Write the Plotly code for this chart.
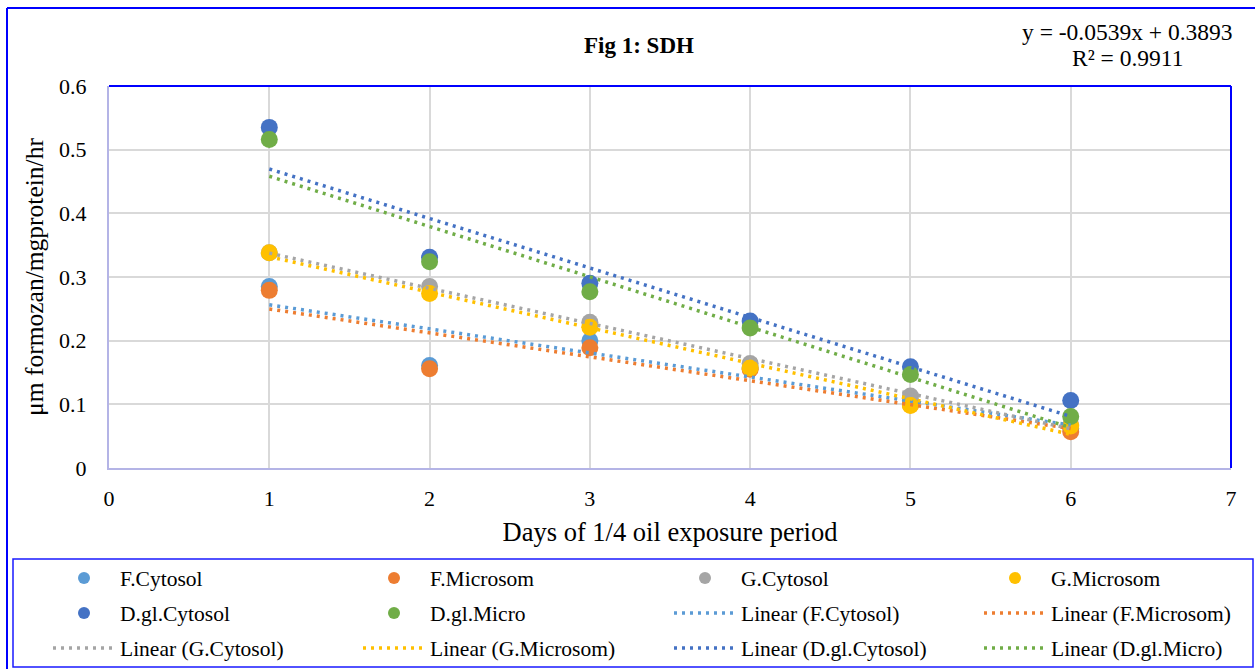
import numpy as np
import plotly.graph_objects as go

days = [1, 2, 3, 4, 5, 6]
f_cytosol = [0.285, 0.161, 0.200, 0.157, 0.106, 0.062]
f_microsom = [0.279, 0.156, 0.189, 0.155, 0.099, 0.057]
g_cytosol = [0.338, 0.285, 0.229, 0.164, 0.113, 0.068]
g_microsom = [0.338, 0.274, 0.221, 0.157, 0.098, 0.066]
dgl_cytosol = [0.535, 0.331, 0.290, 0.231, 0.159, 0.106]
dgl_micro = [0.516, 0.324, 0.277, 0.220, 0.147, 0.081]

series_names = ["F.Cytosol", "F.Microsom", "G.Cytosol", "G.Microsom", "D.gl.Cytosol", "D.gl.Micro"]
series_values = [f_cytosol, f_microsom, g_cytosol, g_microsom, dgl_cytosol, dgl_micro]
colors = ["#5B9BD5", "#ED7D31", "#A5A5A5", "#FFC000", "#4472C4", "#70AD47"]

title_text = "Fig 1: SDH"
equation_lines = ["y = -0.0539x + 0.3893", "R² = 0.9911"]
x_title = "Days of 1/4 oil exposure period"
y_title = "μm formozan/mgprotein/hr"

FONT = "Liberation Serif, Times New Roman, serif"

# pixel layout helpers
W, H = 1255, 669
L, R, T, B = 109, 1231, 86, 468
pw, ph = R - L, B - T
def px(x):
    return (x - L) / pw
def py(y):
    return (B - y) / ph

# legend grid (pixel positions of entry text starts and row centres)
LEG_ITEMW = 62
leg_col_text_x = [120, 430, 741, 1051]
leg_row_y = [578, 613, 648]

fig = go.Figure()

legend_layouts = {}
def legend_for(k, is_marker):
    lid = "legend" if k == 0 else f"legend{k + 1}"
    col, row = k % 4, k // 4
    legend_layouts[lid] = dict(
        orientation="h", itemwidth=LEG_ITEMW,
        itemsizing="constant" if is_marker else "trace",
        font=dict(family=FONT, size=21.5, color="#000"),
        bgcolor="rgba(0,0,0,0)", borderwidth=0,
        xanchor="left", yanchor="middle",
        x=px(leg_col_text_x[col] - (LEG_ITEMW + 10)), y=py(leg_row_y[row]),
        itemclick=False, itemdoubleclick=False,
    )
    return lid

k = 0
for name, vals, c in zip(series_names, series_values, colors):
    fig.add_trace(go.Scatter(
        x=days, y=vals, mode="markers", name=name,
        marker=dict(color=c, size=17, line=dict(width=0)),
        legend=legend_for(k, True),
    ))
    k += 1

for name, vals, c in zip(series_names, series_values, colors):
    slope, intercept = np.polyfit(days, vals, 1)
    xs = [days[0], days[-1]]
    ys = [slope * xv + intercept for xv in xs]
    fig.add_trace(go.Scatter(
        x=xs, y=ys, mode="lines", name=f"Linear ({name})",
        line=dict(color=c, width=3.5, dash="3px,5px"),
        legend=legend_for(k, False),
    ))
    k += 1

fig.update_layout(
    width=W, height=H,
    margin=dict(l=L, r=W - R, t=T, b=H - B, autoexpand=False),
    paper_bgcolor="white", plot_bgcolor="white",
    font=dict(family=FONT, color="#000"),
    xaxis=dict(range=[0, 7], dtick=1, showgrid=True, gridcolor="#D9D9D9", gridwidth=2,
               zeroline=False, showline=True, linecolor="#B4B4E6", linewidth=2,
               ticks="", ticklabelstandoff=10,
               tickfont=dict(family=FONT, size=22, color="#000"),
               title=dict(text=x_title, font=dict(family=FONT, size=26.5, color="#000"), standoff=12)),
    yaxis=dict(range=[0, 0.6], dtick=0.1, showgrid=True, gridcolor="#D9D9D9", gridwidth=2,
               zeroline=False, showline=True, linecolor="#B4B4E6", linewidth=2,
               ticks="", ticklabelstandoff=16,
               tickfont=dict(family=FONT, size=22, color="#000"),
               title=dict(text=y_title, font=dict(family=FONT, size=25.5, color="#000"), standoff=8)),
    showlegend=True,
    **legend_layouts,
)

fig.add_annotation(text=f"<b>{title_text}</b>", xref="paper", yref="paper",
                   x=px(639), y=py(45), xanchor="center", yanchor="middle",
                   showarrow=False, font=dict(family=FONT, size=23, color="#000"))
for line_text, ly in zip(equation_lines, [32, 58]):
    fig.add_annotation(text=line_text, xref="paper", yref="paper",
                       x=px(1127), y=py(ly), xanchor="center", yanchor="middle",
                       showarrow=False, font=dict(family=FONT, size=23.5, color="#000"))

shapes = [
    dict(type="line", xref="paper", yref="paper", x0=0, x1=1, y0=1, y1=1,
         line=dict(color="#0000FF", width=2)),
    dict(type="line", xref="paper", yref="paper", x0=1, x1=1, y0=0, y1=1,
         line=dict(color="#0000FF", width=2)),
    dict(type="line", xref="paper", yref="paper", x0=px(7), x1=px(7), y0=py(669), y1=py(8),
         line=dict(color="#0000FF", width=2)),
    dict(type="line", xref="paper", yref="paper", x0=px(7), x1=px(1255), y0=py(8), y1=py(8),
         line=dict(color="#0000FF", width=2)),
    dict(type="rect", xref="paper", yref="paper", x0=px(13), x1=px(1253), y0=py(667), y1=py(559),
         line=dict(color="#1A1AFF", width=1.5)),
]
fig.update_layout(shapes=shapes)

fig.write_html("out.html", config={"displayModeBar": False},
               post_script="document.body.style.margin='0';document.body.style.overflow='hidden';")
